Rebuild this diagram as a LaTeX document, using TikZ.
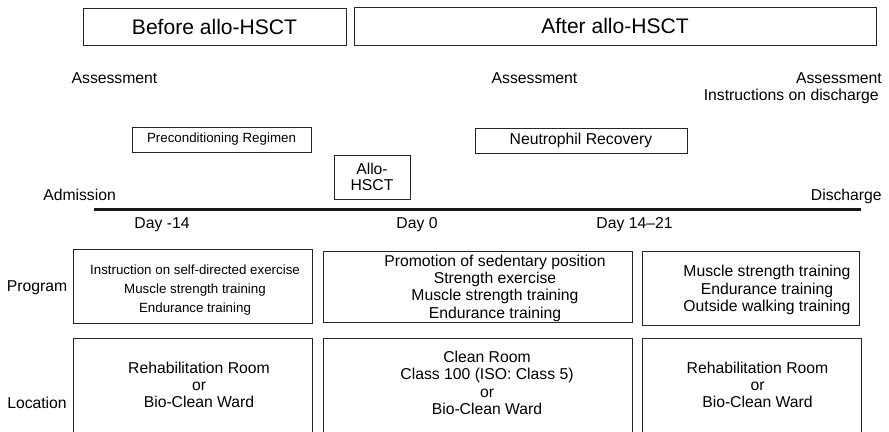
\documentclass[tikz,border=0pt]{standalone}
\usepackage{fontspec}
\setmainfont{Liberation Sans}
\begin{document}
\begin{tikzpicture}[x=0.75pt,y=-0.75pt,
                    box/.style={draw=black!85, line width=0.75pt, inner sep=0pt},
                    sz/.style 2 args={minimum width=#1*0.75pt, minimum height=#2*0.75pt},
                    lbl/.style={inner sep=0pt, font=\fontsize{11.8}{13}\selectfont},
                    small/.style={inner sep=0pt, font=\fontsize{10}{14}\selectfont},
                    multi/.style={inner sep=0pt, align=center, font=\fontsize{11.8}{13}\selectfont}]
                    \useasboundingbox (0,0) rectangle (889,432);
                    \clip (0,0) rectangle (889,432);
                    % phases
                    \node[box, sz={263}{37}, font=\fontsize{15.8}{18}\selectfont] (before) at (214.5,26.5) {Before allo-HSCT};
                    \node[box, sz={522}{38}, font=\fontsize{15.8}{18}\selectfont] (after) at (615,26) {After allo-HSCT};
                    \node[lbl, anchor=base] (assess1) at (114.5,83) {Assessment};
                    \node[lbl, anchor=base] (assess2) at (534.5,83) {Assessment};
                    \node[lbl, anchor=base east] (assess3) at (882,83) {Assessment};
                    \node[lbl, anchor=base east] (instr) at (879,100) {Instructions on discharge};
                    \node[box, sz={179}{25}, font=\fontsize{10}{12}\selectfont] (precond) at (221.5,139.5) {Preconditioning Regimen};
                    \node[box, sz={212}{25}, font=\fontsize{11.8}{13}\selectfont] (neutro) at (581,140.5) {Neutrophil Recovery};
                    \node[box, sz={76}{44}, align=center, font=\fontsize{11.8}{12.4}\selectfont] (allo) at (372,177) {Allo-\\HSCT};
                    % time line
                    \node[lbl, anchor=base west] (adm) at (43,200) {Admission};
                    \node[lbl, anchor=base east] (dis) at (882,200) {Discharge};
                    \coordinate (tl-start) at (94,209);
                    \coordinate (tl-end) at (861,209);
                    \draw[line width=2.25pt, black!90] (tl-start) -- (tl-end);
                    \node[lbl, anchor=base] (day1) at (162,228) {Day -14};
                    \node[lbl, anchor=base] (day2) at (417,228) {Day 0};
                    \node[lbl, anchor=base] (day3) at (634.5,228) {Day 14--21};
                    % program
                    \node[lbl] (prog) at (37,288) {Program};
                    \node[box, sz={239}{74}] (prog1) at (192.5,286) {};
                    \node[small, align=center] (prog1-t) at (195,290) {Instruction on self-directed exercise\\Muscle strength training\\Endurance training};
                    \node[box, sz={309}{71}] (prog2) at (477.5,286.5) {};
                    \node[multi] (prog2-t) at (495,288) {Promotion of sedentary position\\Strength exercise\\Muscle strength training\\Endurance training};
                    \node[box, sz={217}{74}] (prog3) at (750.5,288) {};
                    \node[multi] (prog3-t) at (767,290) {Muscle strength training\\Endurance training\\Outside walking training};
                    % location
                    \node[lbl] (loc) at (37,402.5) {Location};
                    \node[box, sz={239}{102}] (loc1) at (192.5,389) {};
                    \node[multi] (loc1-t) at (199,385) {Rehabilitation Room\\or\\Bio-Clean Ward};
                    \node[box, sz={309}{102}] (loc2) at (477.5,389) {};
                    \node[multi] (loc2-t) at (487,383) {Clean Room\\Class 100 (ISO: Class 5)\\or\\Bio-Clean Ward};
                    \node[box, sz={219}{102}] (loc3) at (751.5,389) {};
                    \node[multi] (loc3-t) at (757.5,385) {Rehabilitation Room\\or\\Bio-Clean Ward};
\end{tikzpicture}
\end{document}
